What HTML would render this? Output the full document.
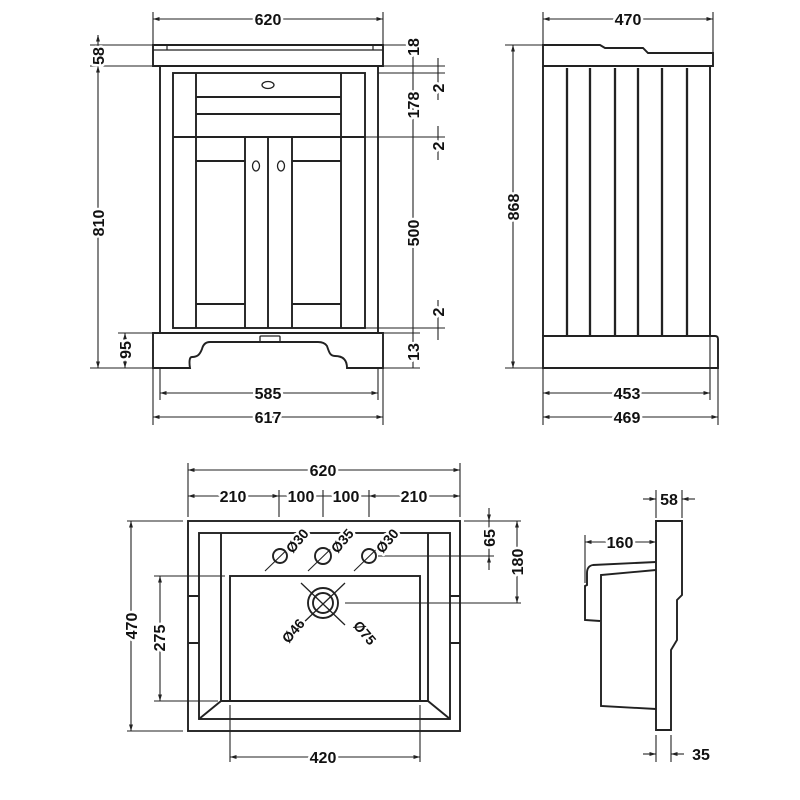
<!DOCTYPE html>
<html><head><meta charset="utf-8"><style>
html,body{margin:0;padding:0;background:#fff}
svg{display:block}
text{font-family:"Liberation Sans",sans-serif;font-weight:bold;font-size:16px;fill:#111;stroke:#fff;stroke-width:5px;paint-order:stroke;stroke-linejoin:round}
.s{font-size:14px}
</style></head><body>
<svg width="800" height="800" viewBox="0 0 800 800" xmlns="http://www.w3.org/2000/svg">
<defs>
<marker id="a" viewBox="0 0 10 10" refX="10" refY="5" markerWidth="6" markerHeight="6" orient="auto-start-reverse"><path d="M0,2 L10,5 L0,8z" fill="#222"/></marker>
</defs>
<g fill="none" stroke="#222" stroke-width="1.9">
<path d="M153,45 H383 V66 H153Z"/>
<path d="M167,45 V50 H373 V45 M153,50 H167 M373,50 H383" stroke-width="1.2"/>
<rect x="160" y="66" width="218" height="267"/>
<rect x="173" y="73" width="192" height="255"/>
<path d="M196,73 V137 M341,73 V137 M196,97 H341 M196,114 H341 M173,137 H365"/>
<ellipse cx="268" cy="85" rx="6" ry="3.5" stroke-width="1.3"/>
<path d="M196,137 V328 M245,137 V328 M268,137 V328 M292,137 V328 M341,137 V328"/>
<path d="M196,161 H245 M292,161 H341 M196,304 H245 M292,304 H341"/>
<ellipse cx="256" cy="166" rx="3.5" ry="5" stroke-width="1.3"/>
<ellipse cx="281" cy="166" rx="3.5" ry="5" stroke-width="1.3"/>
<path d="M153,333 H383 V368 H347 C347,360 343,356 335,356 C330,356 329,352 327,346 C325,343 322,342 318,342 H210 C205,342 203,345 202,349 C200,354 198,357 192,357 C188,357 190,368 190,368 H153Z"/>
<rect x="260" y="336" width="20" height="6" rx="1" stroke-width="1.3"/>
<path d="M543,45 H600 L605,48 H643 L648,53 H713 V66 H543Z"/>
<path d="M543,66 V336 M710,66 V336"/>
<path d="M567,68 V336 M590,68 V336 M615,68 V336 M638,68 V336 M662,68 V336 M687,68 V336" stroke-width="2.3"/>
<path d="M543,336 H715 Q718,336 718,339 V368 H543Z"/>
<rect x="188" y="521" width="272" height="210"/>
<rect x="199" y="533" width="251" height="186"/>
<path d="M221,533 V701 L199,719 M428,533 V701 L450,719 M221,701 H428"/>
<rect x="230" y="576" width="190" height="125"/>
<path d="M188,596 H199 M188,643 H199 M450,596 H460 M450,643 H460"/>
<circle cx="280" cy="556" r="7"/><circle cx="323" cy="556" r="8"/><circle cx="369" cy="556" r="7"/>
<circle cx="323" cy="603" r="15"/><circle cx="323" cy="603" r="10"/>
<path d="M301,583 L345,625 M345,583 L301,625" stroke-width="1.3"/>
<path d="M265,571 L296,541 M308,571 L339,541 M354,571 L385,541" stroke-width="1.1"/>
<path d="M656,521 H682 V595 L677,600 V640 L671,650 V730 H656Z"/>
<path d="M656,562 L593,565 Q587,566 587,573 V585 L585,586 V620 L600,621 M656,570 L601,575 V706 L656,709"/>
</g>
<g fill="none" stroke="#222" stroke-width="1.1">
<path d="M153,19 H383" marker-start="url(#a)" marker-end="url(#a)"/>
<path d="M153,12 V45 M383,12 V45"/>
<path d="M90,45 H153 M90,66 H153 M90,368 H153 M118,333 H160"/>
<path d="M98,35 V66 M98,45 V66" marker-start="url(#a)" marker-end="url(#a)"/>
<path d="M98,66 V368" marker-start="url(#a)" marker-end="url(#a)"/>
<path d="M125,333 V368" marker-start="url(#a)" marker-end="url(#a)"/>
<path d="M383,45 H420 M383,66 H445 M378,73 H445 M365,137 H445 M365,328 H445 M383,333 H420 M383,368 H420"/>
<path d="M413,45 V368"/>
<path d="M438,58 V100 M438,126 V160 M438,300 V340"/>
<path d="M153,368 V425 M383,368 V425 M160,368 V400 M378,368 V400"/>
<path d="M160,393 H378" marker-start="url(#a)" marker-end="url(#a)"/>
<path d="M153,417 H383" marker-start="url(#a)" marker-end="url(#a)"/>
<path d="M543,12 V45 M713,12 V53"/>
<path d="M543,19 H713" marker-start="url(#a)" marker-end="url(#a)"/>
<path d="M505,45 H543 M505,368 H543"/>
<path d="M513,45 V368" marker-start="url(#a)" marker-end="url(#a)"/>
<path d="M543,368 V425 M710,336 V400 M718,368 V425"/>
<path d="M543,393 H710" marker-start="url(#a)" marker-end="url(#a)"/>
<path d="M543,417 H718" marker-start="url(#a)" marker-end="url(#a)"/>
<path d="M188,463 V517 M460,463 V517"/>
<path d="M188,470 H460" marker-start="url(#a)" marker-end="url(#a)"/>
<path d="M279,490 V517 M323,490 V517 M369,490 V517"/>
<path d="M188,496 H279" marker-start="url(#a)" marker-end="url(#a)"/>
<path d="M279,496 H323 M323,496 H369"/>
<path d="M369,496 H460" marker-start="url(#a)" marker-end="url(#a)"/>
<path d="M127,521 H183 M127,731 H183"/>
<path d="M131,521 V731" marker-start="url(#a)" marker-end="url(#a)"/>
<path d="M154,576 H225 M154,701 H218"/>
<path d="M160,576 V701" marker-start="url(#a)" marker-end="url(#a)"/>
<path d="M230,705 V762 M420,705 V762"/>
<path d="M230,757 H420" marker-start="url(#a)" marker-end="url(#a)"/>
<path d="M464,521 H521 M378,556 H494 M345,603 H521"/>
<path d="M489,508 V521" marker-end="url(#a)"/><path d="M489,570 V556" marker-end="url(#a)"/>
<path d="M489,521 V556"/>
<path d="M517,521 V603" marker-start="url(#a)" marker-end="url(#a)"/>
<path d="M656,490 V518 M682,490 V518"/>
<path d="M643,499 H656" marker-end="url(#a)"/><path d="M695,499 H682" marker-end="url(#a)"/>
<path d="M585,535 V583 M656,535 V560"/>
<path d="M585,542 H656" marker-start="url(#a)" marker-end="url(#a)"/>
<path d="M656,735 V762 M671,735 V762"/>
<path d="M643,754 H656" marker-end="url(#a)"/><path d="M684,754 H671" marker-end="url(#a)"/>
</g>
<text x="268" y="25" text-anchor="middle">620</text>
<text transform="translate(104,56) rotate(-90)" text-anchor="middle">58</text>
<text transform="translate(104,223) rotate(-90)" text-anchor="middle">810</text>
<text transform="translate(131,350) rotate(-90)" text-anchor="middle">95</text>
<text transform="translate(419,47) rotate(-90)" text-anchor="middle">18</text>
<text transform="translate(419,105) rotate(-90)" text-anchor="middle">178</text>
<text transform="translate(419,233) rotate(-90)" text-anchor="middle">500</text>
<text transform="translate(419,352) rotate(-90)" text-anchor="middle">13</text>
<text transform="translate(444,88) rotate(-90)" text-anchor="middle">2</text>
<text transform="translate(444,146) rotate(-90)" text-anchor="middle">2</text>
<text transform="translate(444,312) rotate(-90)" text-anchor="middle">2</text>
<text x="268" y="399" text-anchor="middle">585</text>
<text x="268" y="423" text-anchor="middle">617</text>
<text x="628" y="25" text-anchor="middle">470</text>
<text transform="translate(519,207) rotate(-90)" text-anchor="middle">868</text>
<text x="627" y="399" text-anchor="middle">453</text>
<text x="627" y="423" text-anchor="middle">469</text>
<text x="323" y="476" text-anchor="middle">620</text>
<text x="233" y="502" text-anchor="middle">210</text>
<text x="301" y="502" text-anchor="middle">100</text>
<text x="346" y="502" text-anchor="middle">100</text>
<text x="414" y="502" text-anchor="middle">210</text>
<text transform="translate(137,626) rotate(-90)" text-anchor="middle">470</text>
<text transform="translate(165,638) rotate(-90)" text-anchor="middle">275</text>
<text x="323" y="763" text-anchor="middle">420</text>
<text transform="translate(495,538) rotate(-90)" text-anchor="middle">65</text>
<text transform="translate(523,562) rotate(-90)" text-anchor="middle">180</text>
<text class="s" transform="translate(301,544) rotate(-50)" text-anchor="middle">Ø30</text>
<text class="s" transform="translate(346,544) rotate(-50)" text-anchor="middle">Ø35</text>
<text class="s" transform="translate(391,544) rotate(-50)" text-anchor="middle">Ø30</text>
<text class="s" transform="translate(297,634) rotate(-50)" text-anchor="middle">Ø46</text>
<text class="s" transform="translate(361,636) rotate(50)" text-anchor="middle">Ø75</text>
<text x="669" y="505" text-anchor="middle">58</text>
<text x="620" y="548" text-anchor="middle">160</text>
<text x="701" y="760" text-anchor="middle">35</text>
</svg>
</body></html>
